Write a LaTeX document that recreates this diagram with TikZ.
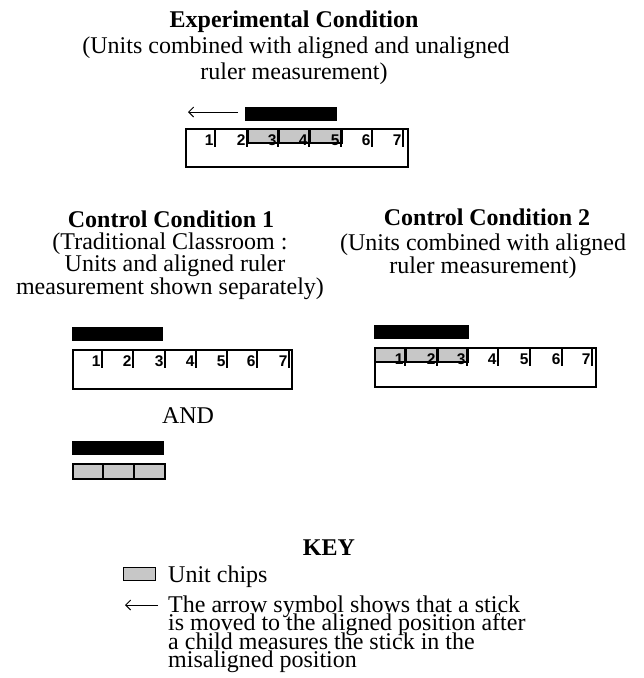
\documentclass[tikz,border=0pt]{standalone}
\usepackage{fontspec}
\setmainfont{Liberation Serif}
\newfontfamily\numfont{Liberation Sans}
\usetikzlibrary{arrows.meta}
\definecolor{chipgray}{gray}{0.78}
\begin{document}
\begin{tikzpicture}[x=1pt,y=-1pt,
 txt/.style={inner sep=0pt, anchor=base, font=\fontsize{24}{26}\selectfont},
 ttl/.style={inner sep=0pt, anchor=base, font=\fontsize{24}{26}\selectfont\bfseries},
 keytxt/.style={inner sep=0pt, anchor=base west, font=\fontsize{24}{26}\selectfont},
 rulerbox/.style={draw, line width=2pt, inner sep=0pt, anchor=north west},
 stick/.style={fill=black, draw=none, inner sep=0pt, anchor=north west},
 chip/.style={fill=chipgray, draw=black, line width=1.6pt, inner sep=0pt, anchor=north west},
 tickline/.style={line width=2pt},
 num/.style={font=\numfont\bfseries\fontsize{15.5}{16}\selectfont, inner sep=0pt, anchor=base east},
 mv/.style={line width=0.9pt, -{Straight Barb[length=5pt,width=10pt]}}
]
\useasboundingbox (0,0) rectangle (644,678);

% ---------- Experimental condition ----------
\node[ttl] (et) at (294,27) {Experimental Condition};
\node[txt] (el1) at (296,53) {(Units combined with aligned and unaligned};
\node[txt] (el2) at (294,79) {ruler measurement)};

\node[stick, minimum width=92, minimum height=14] (es) at (245,107) {};
\coordinate (ea1) at (238,112);
\coordinate (ea2) at (188,112);
\draw[mv] (ea1) -- (ea2);

\node[chip, minimum width=31, minimum height=14] (ec1) at (247,128) {};
\node[chip, minimum width=31, minimum height=14] (ec2) at (278,128) {};
\node[chip, minimum width=32, minimum height=14] (ec3) at (309,128) {};
\node[rulerbox, minimum width=222, minimum height=38] (er) at (185,128) {};
\foreach \t [count=\i] in {215,247,278,309,341,372,403}{
  \draw[tickline] (\t,128) -- (\t,147);
  \node[num] (en\i) at (\t-1.2,145) {\i};
}

% ---------- Control condition 1 ----------
\node[ttl] (c1t) at (171,227) {Control Condition 1};
\node[txt] (c1l1) at (170,249) {(Traditional Classroom :};
\node[txt] (c1l2) at (175,271) {Units and aligned ruler};
\node[txt] (c1l3) at (170,294) {measurement shown separately)};

\node[stick, minimum width=91, minimum height=14] (c1s) at (72,327) {};
\node[rulerbox, minimum width=219, minimum height=39] (c1r) at (72,349) {};
\foreach \t [count=\i] in {102,133,165,196,227,257,289}{
  \draw[tickline] (\t,349) -- (\t,368);
  \node[num] (c1n\i) at (\t-1.2,366) {\i};
}

\node[txt] (and) at (188,423) {AND};

\node[stick, minimum width=92, minimum height=14] (c1s2) at (72,441) {};
\node[chip, minimum width=30, minimum height=15] (c1c1) at (72,463) {};
\node[chip, minimum width=31, minimum height=15] (c1c2) at (102,463) {};
\node[chip, minimum width=31, minimum height=15] (c1c3) at (133,463) {};

% ---------- Control condition 2 ----------
\node[ttl] (c2t) at (487,225) {Control Condition 2};
\node[txt] (c2l1) at (483,250) {(Units combined with aligned};
\node[txt] (c2l2) at (483,273) {ruler measurement)};

\node[stick, minimum width=95, minimum height=14] (c2s) at (374,325) {};
\node[chip, minimum width=31, minimum height=14] (c2c1) at (374,347) {};
\node[chip, minimum width=32, minimum height=14] (c2c2) at (405,347) {};
\node[chip, minimum width=30, minimum height=14] (c2c3) at (437,347) {};
\node[rulerbox, minimum width=221, minimum height=39] (c2r) at (374,347) {};
\foreach \t [count=\i] in {405,437,467,498,530,562,592}{
  \draw[tickline] (\t,347) -- (\t,366);
  \node[num] (c2n\i) at (\t-1.2,364) {\i};
}

% ---------- Key ----------
\node[ttl] (key) at (329,555) {KEY};
\node[chip, minimum width=32, minimum height=13, line width=1.3pt] (kc) at (123,567) {};
\node[keytxt] (kct) at (168,582) {Unit chips};
\coordinate (ka1) at (158,605);
\coordinate (ka2) at (125,605);
\draw[mv] (ka1) -- (ka2);
\node[keytxt] (kl) at (168,612) {\vtop{\baselineskip=18.6pt \lineskiplimit=-20pt
  \hbox{The arrow symbol shows that a stick}
  \hbox{is moved to the aligned position after}
  \hbox{a child measures the stick in the}
  \hbox{misaligned position}}};
\end{tikzpicture}
\end{document}
